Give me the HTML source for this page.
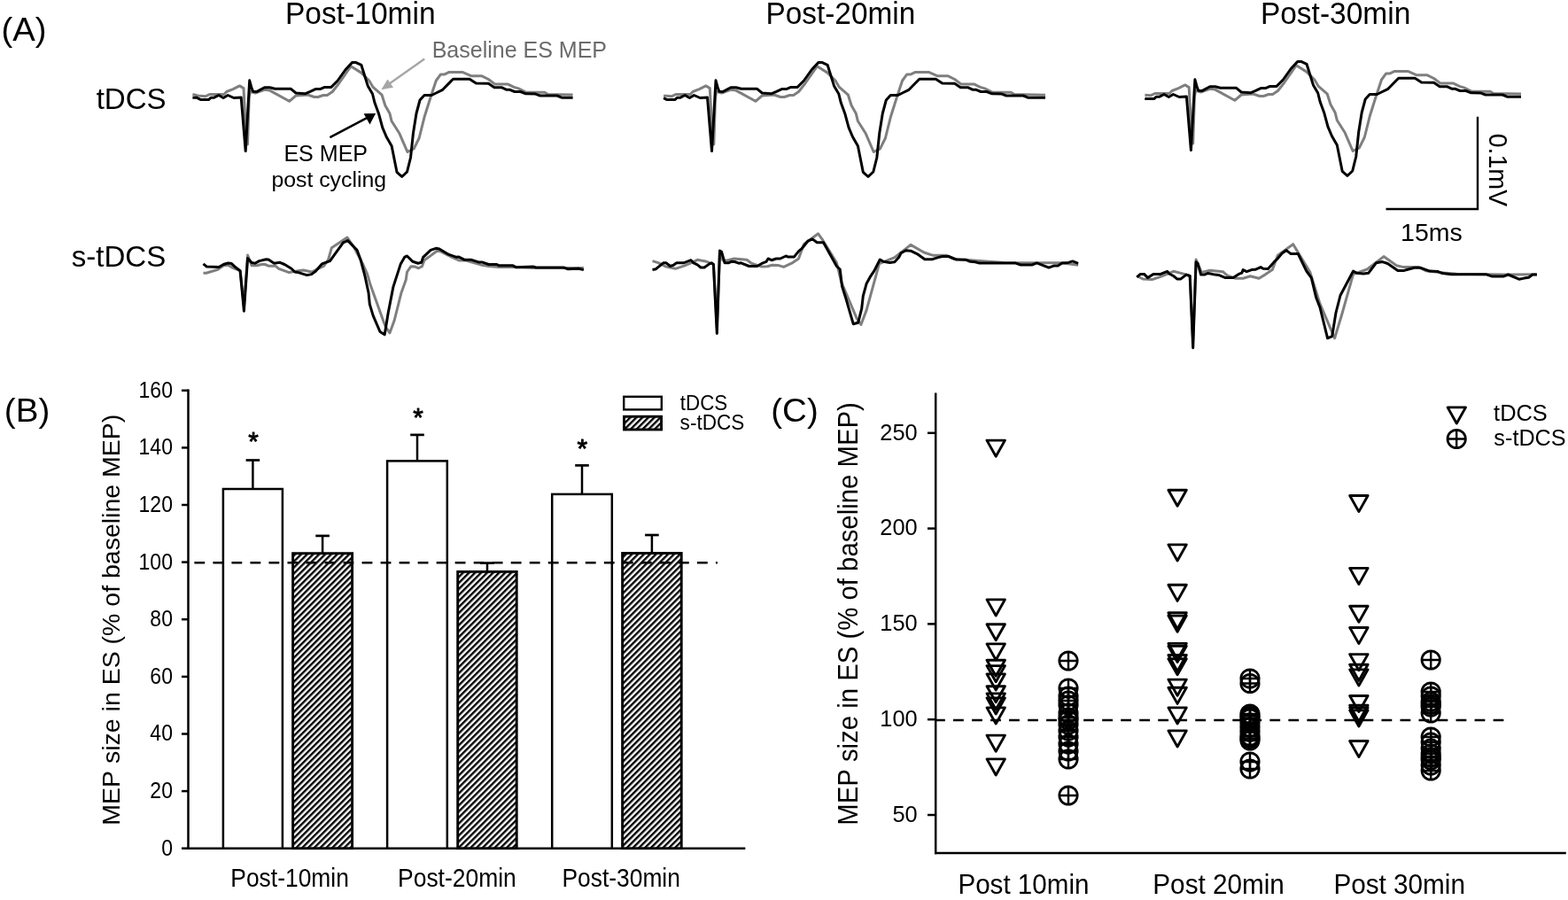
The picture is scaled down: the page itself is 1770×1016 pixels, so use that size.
<!DOCTYPE html>
<html><head><meta charset="utf-8"><title>Figure</title>
<style>html,body{margin:0;padding:0;background:#fff;} svg{display:block;} text{font-family:"Liberation Sans", Arial, sans-serif;font-kerning:none;}</style>
</head><body>
<svg width="1770" height="1016" viewBox="0 0 1770 1016">
<rect width="1770" height="1016" fill="#fff"/>
<path d="M217.4,106.5 L217.4,106.5 L223.3,108.0 L232.1,108.7 L236.6,106.5 L252.8,106.5 L255.8,103.5 L263.1,100.6 L270.5,96.9 L275.0,99.6 L277.5,150.0 L279.5,163.0 L281.2,110.0 L282.5,103.0 L288.2,105.0 L298.6,101.3 L304.5,102.1 L326.6,114.3 L334.0,108.0 L347.3,107.0 L354.7,109.5 L359.1,109.5 L365.0,107.5 L369.4,107.5 L375.3,103.5 L382.7,94.0 L396.0,74.8 L407.8,82.1 L416.7,91.0 L421.1,98.4 L431.1,107.2 L434.8,119.0 L439.9,127.9 L442.1,136.8 L451.0,150.8 L459.9,171.5 L467.2,167.8 L473.1,156.0 L479.0,132.3 L486.4,108.7 L492.3,91.0 L497.5,83.9 L501.9,83.9 L507.1,81.4 L521.9,81.4 L532.2,85.8 L544.0,85.8 L551.4,89.5 L558.8,95.1 L573.5,95.1 L580.2,98.4 L585.3,99.9 L594.2,104.3 L614.9,104.3 L618.6,106.5 L646.6,107.0" fill="none" stroke="#7f7f7f" stroke-width="3.0" stroke-linejoin="round" stroke-linecap="butt"/>
<path d="M217.4,110.2 L221.8,110.2 L226.2,112.4 L235.8,112.4 L238.0,110.2 L241.7,110.2 L246.9,107.5 L252.1,110.5 L257.2,107.5 L263.9,110.5 L272.2,110.0 L277.2,170.6 L281.7,90.8 L284.1,99.7 L285.6,103.2 L289.6,103.6 L298.6,98.7 L304.5,98.7 L310.4,100.2 L328.1,100.2 L334.0,105.0 L344.3,105.8 L350.2,103.3 L356.1,100.6 L361.3,100.6 L366.5,98.4 L373.9,98.4 L381.2,91.0 L390.1,78.5 L397.5,70.6 L401.9,70.6 L407.8,73.3 L415.2,96.9 L420.5,106.0 L423.0,116.1 L427.4,127.9 L431.8,144.1 L436.2,154.5 L442.1,164.8 L448.0,194.3 L453.7,199.5 L459.5,194.0 L463.5,178.0 L466.5,150.0 L470.0,128.0 L474.0,113.0 L479.0,107.5 L487.2,107.5 L492.3,105.0 L499.7,101.3 L511.5,89.2 L530.0,89.2 L537.4,94.0 L551.4,94.2 L558.0,98.7 L566.1,98.7 L572.0,101.3 L575.7,101.3 L580.9,103.5 L587.6,103.5 L593.5,105.8 L604.5,106.1 L609.7,108.0 L628.9,108.0 L634.0,110.2 L646.6,110.2" fill="none" stroke="#000" stroke-width="3.0" stroke-linejoin="round" stroke-linecap="butt"/>
<path d="M749.1,107.9 L749.6,108.0 L758.4,108.7 L762.9,106.5 L779.1,106.5 L782.1,103.5 L789.4,100.6 L796.8,96.9 L801.3,99.6 L803.8,150.0 L805.8,163.0 L807.5,110.0 L808.8,103.0 L814.5,105.0 L824.9,101.3 L830.8,102.1 L852.9,114.3 L860.3,108.0 L873.6,107.0 L881.0,109.5 L885.4,109.5 L891.3,107.5 L895.7,107.5 L901.6,103.5 L909.0,94.0 L922.3,74.8 L934.1,82.1 L943.0,91.0 L947.4,98.4 L957.4,107.2 L961.1,119.0 L966.2,127.9 L968.4,136.8 L977.3,150.8 L986.2,171.5 L993.5,167.8 L999.4,156.0 L1005.3,132.3 L1012.7,108.7 L1018.6,91.0 L1023.8,83.9 L1028.2,83.9 L1033.4,81.4 L1048.2,81.4 L1058.5,85.8 L1070.3,85.8 L1077.7,89.5 L1085.1,95.1 L1099.8,95.1 L1106.5,98.4 L1111.6,99.9 L1120.5,104.3 L1141.2,104.3 L1144.9,106.5 L1180.0,107.2" fill="none" stroke="#7f7f7f" stroke-width="3.0" stroke-linejoin="round" stroke-linecap="butt"/>
<path d="M749.1,110.7 L752.5,112.4 L762.1,112.4 L764.3,110.2 L768.0,110.2 L773.2,107.5 L778.4,110.5 L783.5,107.5 L790.2,110.5 L798.5,110.0 L803.5,170.6 L808.0,90.8 L810.4,99.7 L811.9,103.2 L815.9,103.6 L824.9,98.7 L830.8,98.7 L836.7,100.2 L854.4,100.2 L860.3,105.0 L870.6,105.8 L876.5,103.3 L882.4,100.6 L887.6,100.6 L892.8,98.4 L900.2,98.4 L907.5,91.0 L916.4,78.5 L923.8,70.6 L928.2,70.6 L934.1,73.3 L941.5,96.9 L946.8,106.0 L949.3,116.1 L953.7,127.9 L958.1,144.1 L962.5,154.5 L968.4,164.8 L974.3,194.3 L980.0,199.5 L985.8,194.0 L989.8,178.0 L992.8,150.0 L996.3,128.0 L1000.3,113.0 L1005.3,107.5 L1013.5,107.5 L1018.6,105.0 L1026.0,101.3 L1037.8,89.2 L1056.3,89.2 L1063.7,94.0 L1077.7,94.2 L1084.3,98.7 L1092.4,98.7 L1098.3,101.3 L1102.0,101.3 L1107.2,103.5 L1113.9,103.5 L1119.8,105.8 L1130.8,106.1 L1136.0,108.0 L1155.2,108.0 L1160.3,110.2 L1180.0,110.2" fill="none" stroke="#000" stroke-width="3.0" stroke-linejoin="round" stroke-linecap="butt"/>
<path d="M1292.4,107.2 L1299.3,107.7 L1303.8,105.5 L1320.0,105.5 L1323.0,102.5 L1330.3,99.6 L1337.7,95.9 L1342.2,98.6 L1344.7,149.0 L1346.7,162.0 L1348.4,109.0 L1349.7,102.0 L1355.4,104.0 L1365.8,100.3 L1371.7,101.1 L1393.8,113.3 L1401.2,107.0 L1414.5,106.0 L1421.9,108.5 L1426.3,108.5 L1432.2,106.5 L1436.6,106.5 L1442.5,102.5 L1449.9,93.0 L1463.2,73.8 L1475.0,81.1 L1483.9,90.0 L1488.3,97.4 L1498.3,106.2 L1502.0,118.0 L1507.1,126.9 L1509.3,135.8 L1518.2,149.8 L1527.1,170.5 L1534.4,166.8 L1540.3,155.0 L1546.2,131.3 L1553.6,107.7 L1559.5,90.0 L1564.7,82.9 L1569.1,82.9 L1574.3,80.4 L1589.1,80.4 L1599.4,84.8 L1611.2,84.8 L1618.6,88.5 L1626.0,94.1 L1640.7,94.1 L1647.4,97.4 L1652.5,98.9 L1661.4,103.3 L1682.1,103.3 L1685.8,105.5 L1717.0,106.1" fill="none" stroke="#7f7f7f" stroke-width="3.0" stroke-linejoin="round" stroke-linecap="butt"/>
<path d="M1292.4,110.9 L1293.4,111.4 L1303.0,111.4 L1305.2,109.2 L1308.9,109.2 L1314.1,106.5 L1319.3,109.5 L1324.4,106.5 L1331.1,109.5 L1339.4,109.0 L1344.4,169.6 L1348.9,89.8 L1351.3,98.7 L1352.8,102.2 L1356.8,102.6 L1365.8,97.7 L1371.7,97.7 L1377.6,99.2 L1395.3,99.2 L1401.2,104.0 L1411.5,104.8 L1417.4,102.3 L1423.3,99.6 L1428.5,99.6 L1433.7,97.4 L1441.1,97.4 L1448.4,90.0 L1457.3,77.5 L1464.7,69.6 L1469.1,69.6 L1475.0,72.3 L1482.4,95.9 L1487.7,105.0 L1490.2,115.1 L1494.6,126.9 L1499.0,143.1 L1503.4,153.5 L1509.3,163.8 L1515.2,193.3 L1520.9,198.5 L1526.7,193.0 L1530.7,177.0 L1533.7,149.0 L1537.2,127.0 L1541.2,112.0 L1546.2,106.5 L1554.4,106.5 L1559.5,104.0 L1566.9,100.3 L1578.7,88.2 L1597.2,88.2 L1604.6,93.0 L1618.6,93.2 L1625.2,97.7 L1633.3,97.7 L1639.2,100.3 L1642.9,100.3 L1648.1,102.5 L1654.8,102.5 L1660.7,104.8 L1671.7,105.1 L1676.9,107.0 L1696.1,107.0 L1701.2,109.2 L1717.0,109.2" fill="none" stroke="#000" stroke-width="3.0" stroke-linejoin="round" stroke-linecap="butt"/>
<path d="M229.5,308.3 L232.8,308.3 L245.8,304.4 L252.3,299.8 L257.5,299.2 L262.7,302.4 L271.1,305.7 L275.4,345.0 L279.6,288.1 L284.1,299.8 L290.0,299.8 L295.2,298.5 L299.1,298.5 L303.0,300.2 L310.8,300.2 L314.7,303.3 L326.4,307.6 L336.7,305.7 L342.6,305.0 L351.7,307.0 L365.3,300.5 L370.5,293.3 L374.4,279.7 L392.0,268.0 L399.1,278.4 L409.5,297.9 L414.7,309.6 L418.0,321.3 L432.9,362.8 L435.5,369.3 L440.0,375.8 L445.2,361.5 L453.0,330.4 L458.2,316.1 L459.5,307.0 L464.0,300.7 L468.6,301.1 L472.5,302.8 L476.4,300.7 L479.0,293.7 L484.2,290.1 L494.6,282.3 L506.3,288.5 L518.0,294.0 L525.8,294.0 L542.7,298.9 L551.7,300.5 L563.4,301.5 L579.0,301.5 L602.4,302.4 L658.9,302.4" fill="none" stroke="#7f7f7f" stroke-width="3.0" stroke-linejoin="round" stroke-linecap="butt"/>
<path d="M229.5,297.9 L233.4,301.1 L247.1,301.5 L252.3,298.5 L257.5,297.0 L261.4,297.6 L265.9,301.8 L271.1,305.7 L275.4,351.2 L279.6,291.4 L284.1,296.6 L288.0,297.2 L292.6,294.6 L300.4,292.7 L303.0,292.9 L309.5,297.2 L316.0,296.3 L321.2,298.5 L329.0,303.3 L332.8,307.0 L336.7,307.6 L346.5,310.6 L351.7,309.6 L356.2,306.3 L363.4,297.9 L372.5,294.6 L375.7,290.1 L387.4,273.8 L392.6,271.6 L403.0,282.3 L406.9,292.7 L412.1,312.2 L416.0,330.4 L417.3,343.4 L421.2,356.4 L429.0,374.5 L434.2,377.8 L438.1,353.8 L443.9,323.9 L452.3,297.9 L456.9,290.1 L459.5,289.0 L466.0,295.3 L471.8,297.2 L475.7,296.3 L477.7,290.3 L486.1,282.3 L492.0,280.3 L495.9,281.0 L506.3,287.2 L515.4,290.3 L518.0,290.1 L524.5,293.3 L532.3,293.3 L540.1,295.9 L544.0,295.9 L551.7,298.5 L560.8,298.5 L563.4,299.8 L579.0,299.8 L582.9,301.8 L602.4,301.1 L605.0,302.0 L636.2,302.0 L640.7,303.7 L653.1,303.3 L658.9,304.6" fill="none" stroke="#000" stroke-width="3.0" stroke-linejoin="round" stroke-linecap="butt"/>
<path d="M736.5,294.6 L743.0,296.6 L752.1,301.1 L762.5,303.3 L772.9,299.8 L780.7,296.6 L787.2,293.3 L797.6,295.3 L804.1,297.9 L805.4,298.5 L809.3,370.0 L812.5,284.0 L816.0,294.0 L821.0,294.0 L828.8,292.0 L843.0,293.3 L848.2,297.2 L859.9,301.1 L866.4,300.7 L871.6,299.2 L878.1,299.4 L884.6,301.4 L893.7,297.2 L901.5,292.0 L907.4,275.8 L923.6,263.8 L928.8,271.2 L944.4,296.6 L949.7,318.3 L967.1,359.4 L971.9,366.5 L978.2,349.9 L992.5,297.7 L1009.9,290.6 L1028.0,276.4 L1043.1,285.0 L1052.6,288.2 L1068.4,288.2 L1076.3,292.2 L1112.7,295.0 L1133.3,296.5 L1198.1,296.8 L1217.1,299.3" fill="none" stroke="#7f7f7f" stroke-width="3.0" stroke-linejoin="round" stroke-linecap="butt"/>
<path d="M736.5,304.4 L740.4,303.7 L748.8,296.8 L752.1,296.8 L756.6,300.5 L759.9,299.4 L763.8,296.8 L771.6,296.8 L780.0,293.7 L782.6,296.6 L787.2,298.9 L791.1,302.0 L795.0,302.0 L800.8,297.9 L803.4,296.8 L805.4,298.5 L809.3,376.5 L812.5,282.9 L814.5,284.2 L818.1,296.8 L822.3,296.8 L825.5,295.3 L829.4,295.5 L834.0,297.2 L836.5,296.8 L845.6,300.5 L854.7,300.5 L861.2,296.8 L865.1,295.3 L867.1,292.0 L871.0,293.7 L876.2,292.0 L880.7,292.0 L887.2,289.0 L889.8,290.1 L896.3,290.1 L901.5,283.6 L905.4,280.3 L911.9,272.2 L917.1,269.9 L922.3,273.8 L929.5,273.8 L937.9,288.8 L944.4,300.5 L948.2,304.0 L950.5,323.0 L954.5,335.7 L963.2,365.7 L968.7,364.2 L972.7,348.3 L974.3,334.1 L978.2,319.9 L982.2,312.7 L986.9,305.6 L993.3,293.0 L997.2,295.3 L1004.3,296.4 L1009.9,295.8 L1014.6,290.6 L1017.0,285.8 L1022.5,282.7 L1028.0,283.2 L1035.2,286.6 L1043.9,292.7 L1052.6,292.7 L1058.9,290.6 L1063.7,289.5 L1070.8,289.5 L1079.5,293.0 L1090.5,293.3 L1095.3,295.3 L1100.8,295.8 L1104.8,296.9 L1145.9,296.9 L1152.2,299.0 L1164.9,299.0 L1170.4,296.9 L1183.9,302.1 L1189.4,300.1 L1194.2,300.1 L1198.9,296.9 L1206.0,296.4 L1210.8,294.9 L1217.1,297.4" fill="none" stroke="#000" stroke-width="3.0" stroke-linejoin="round" stroke-linecap="butt"/>
<path d="M1283.3,311.5 L1290.2,315.0 L1300.5,315.6 L1309.4,312.6 L1316.3,309.8 L1324.6,306.3 L1337.0,309.4 L1343.2,311.5 L1346.7,385.0 L1350.1,293.0 L1356.3,307.4 L1365.9,305.3 L1380.4,306.7 L1385.2,310.8 L1394.9,314.3 L1403.2,314.3 L1411.4,311.8 L1421.1,314.3 L1428.0,310.1 L1436.2,304.6 L1442.4,288.1 L1459.7,275.7 L1478.9,307.4 L1490.0,342.9 L1506.6,381.8 L1514.5,355.8 L1527.5,309.7 L1543.3,304.0 L1562.0,289.6 L1576.4,299.7 L1583.6,301.4 L1600.9,301.4 L1609.6,305.7 L1630.0,308.0 L1644.2,309.2 L1700.0,310.0 L1734.9,309.8" fill="none" stroke="#7f7f7f" stroke-width="3.0" stroke-linejoin="round" stroke-linecap="butt"/>
<path d="M1283.3,312.9 L1287.4,309.4 L1291.5,309.4 L1295.7,313.6 L1301.9,309.4 L1310.1,309.4 L1317.7,306.3 L1319.8,309.0 L1324.6,311.5 L1328.7,314.9 L1332.9,314.9 L1339.1,310.1 L1343.2,311.5 L1346.7,392.8 L1350.1,295.7 L1352.2,297.7 L1355.6,310.1 L1359.7,310.1 L1363.2,308.5 L1366.6,309.0 L1371.5,310.1 L1375.6,310.4 L1383.2,313.6 L1392.1,313.6 L1398.3,309.4 L1401.8,308.1 L1403.2,304.6 L1407.3,306.7 L1412.8,304.6 L1416.9,304.3 L1423.1,301.6 L1425.9,303.2 L1431.4,303.5 L1438.3,295.7 L1441.7,292.5 L1447.2,286.0 L1452.1,282.6 L1456.9,286.4 L1465.2,286.4 L1474.8,306.0 L1480.3,313.6 L1485.8,336.3 L1490.0,347.0 L1498.6,381.8 L1503.7,379.6 L1508.0,353.0 L1513.0,333.5 L1519.5,321.3 L1527.5,306.1 L1531.8,308.3 L1539.0,309.0 L1544.7,308.3 L1549.1,302.5 L1553.4,296.8 L1560.6,295.6 L1566.4,297.5 L1577.9,305.4 L1585.1,305.4 L1590.8,303.7 L1596.6,302.3 L1603.8,302.3 L1613.9,306.1 L1623.3,306.6 L1628.3,308.6 L1638.4,309.7 L1677.3,309.7 L1683.8,311.9 L1697.5,311.9 L1702.5,310.0 L1714.7,315.2 L1720.5,314.1 L1725.6,313.3 L1729.9,310.0 L1734.9,310.0" fill="none" stroke="#000" stroke-width="3.0" stroke-linejoin="round" stroke-linecap="butt"/>
<line x1="479.2" y1="66.6" x2="436" y2="97" stroke="#a6a6a6" stroke-width="2.4"/>
<polygon points="430.3,101.3 437.5,89.5 444,98.8" fill="#a6a6a6"/>
<line x1="372.4" y1="155.2" x2="416" y2="132.2" stroke="#000" stroke-width="2.6"/>
<polygon points="424.1,127.9 410.6,128.3 417.5,140.5" fill="#000"/>
<path d="M1564.5,236 H1668 V131.8" fill="none" stroke="#000" stroke-width="2.4"/>
<text x="0" y="0" font-size="38.30" fill="#000" transform="translate(1.58,45.60) scale(1,0.975)">(A)</text>
<text x="0" y="0" font-size="33.58" fill="#000" transform="translate(321.90,26.60) scale(1,1.0344924011105654)">Post-10min</text>
<text x="0" y="0" font-size="33.38" fill="#000" transform="translate(864.51,26.60) scale(1,1.0408041302204525)">Post-20min</text>
<text x="0" y="0" font-size="33.50" fill="#000" transform="translate(1422.90,26.60) scale(1,1.03700788415278)">Post-30min</text>
<text x="0" y="0" font-size="33.07" fill="#000" transform="translate(108.65,123.20)">tDCS</text>
<text x="0" y="0" font-size="33.10" fill="#000" transform="translate(80.73,301.20)">s-tDCS</text>
<text x="0" y="0" font-size="25.01" fill="#6b6b6b" transform="translate(487.70,64.80)">Baseline ES MEP</text>
<text x="0" y="0" font-size="25.05" fill="#000" transform="translate(320.39,181.50)">ES MEP</text>
<text x="0" y="0" font-size="24.81" fill="#000" transform="translate(306.45,211.00)">post cycling</text>
<text x="0" y="0" font-size="28.50" fill="#000" transform="translate(1581.08,271.90)">15ms</text>
<text x="0" y="0" font-size="28.56" transform="translate(1681.40,150.63) rotate(90) scale(1,1.059)">0.1mV</text>
<line x1="212.5" y1="439.5" x2="212.5" y2="959" stroke="#000" stroke-width="2.5"/>
<line x1="211.3" y1="957.7" x2="841.3" y2="957.7" stroke="#000" stroke-width="2.5"/>
<line x1="205" y1="957.7" x2="212.5" y2="957.7" stroke="#000" stroke-width="2.5"/>
<text x="0" y="0" font-size="23.00" transform="translate(182.16,965.60) scale(1,1.13)">0</text>
<line x1="205" y1="893.1" x2="212.5" y2="893.1" stroke="#000" stroke-width="2.5"/>
<text x="0" y="0" font-size="23.00" transform="translate(169.37,900.99) scale(1,1.13)">20</text>
<line x1="205" y1="828.5" x2="212.5" y2="828.5" stroke="#000" stroke-width="2.5"/>
<text x="0" y="0" font-size="23.00" transform="translate(169.37,836.38) scale(1,1.13)">40</text>
<line x1="205" y1="763.9" x2="212.5" y2="763.9" stroke="#000" stroke-width="2.5"/>
<text x="0" y="0" font-size="23.00" transform="translate(169.37,771.76) scale(1,1.13)">60</text>
<line x1="205" y1="699.2" x2="212.5" y2="699.2" stroke="#000" stroke-width="2.5"/>
<text x="0" y="0" font-size="23.00" transform="translate(169.37,707.15) scale(1,1.13)">80</text>
<line x1="205" y1="634.6" x2="212.5" y2="634.6" stroke="#000" stroke-width="2.5"/>
<text x="0" y="0" font-size="23.00" transform="translate(156.57,642.54) scale(1,1.13)">100</text>
<line x1="205" y1="570.0" x2="212.5" y2="570.0" stroke="#000" stroke-width="2.5"/>
<text x="0" y="0" font-size="23.00" transform="translate(156.57,577.92) scale(1,1.13)">120</text>
<line x1="205" y1="505.4" x2="212.5" y2="505.4" stroke="#000" stroke-width="2.5"/>
<text x="0" y="0" font-size="23.00" transform="translate(156.57,513.31) scale(1,1.13)">140</text>
<line x1="205" y1="440.8" x2="212.5" y2="440.8" stroke="#000" stroke-width="2.5"/>
<text x="0" y="0" font-size="23.00" transform="translate(156.57,448.70) scale(1,1.13)">160</text>
<text x="0" y="0" font-size="28.51" transform="translate(134.85,931.69) rotate(-90) scale(1,0.938)">MEP size in ES (% of baseline MEP)</text>
<text x="0" y="0" font-size="38.63" fill="#000" transform="translate(4.85,475.90) scale(1,0.97)">(B)</text>
<defs><pattern id="hatch" patternUnits="userSpaceOnUse" width="4.8" height="4.8" patternTransform="rotate(45)">
<rect width="4.8" height="4.8" fill="#fff"/><rect x="0" y="0" width="2.4" height="4.8" fill="#000"/></pattern></defs>
<line x1="285.4" y1="519.5" x2="285.4" y2="552" stroke="#000" stroke-width="2.5"/>
<line x1="277.6" y1="519.5" x2="293.2" y2="519.5" stroke="#000" stroke-width="2.7"/>
<rect x="251.9" y="552" width="67.0" height="405.7" fill="#fff" stroke="#000" stroke-width="2.5"/>
<line x1="364.1" y1="604.9" x2="364.1" y2="624.7" stroke="#000" stroke-width="2.5"/>
<line x1="356.3" y1="604.9" x2="371.9" y2="604.9" stroke="#000" stroke-width="2.7"/>
<rect x="330.6" y="624.7" width="67.0" height="333.0" fill="url(#hatch)" stroke="#000" stroke-width="2.9"/>
<line x1="471.0" y1="490.9" x2="471.0" y2="520.4" stroke="#000" stroke-width="2.5"/>
<line x1="463.2" y1="490.9" x2="478.8" y2="490.9" stroke="#000" stroke-width="2.7"/>
<rect x="437.1" y="520.4" width="67.7" height="437.3" fill="#fff" stroke="#000" stroke-width="2.5"/>
<line x1="550.0" y1="635.6" x2="550.0" y2="645.4" stroke="#000" stroke-width="2.5"/>
<line x1="542.2" y1="635.6" x2="557.8" y2="635.6" stroke="#000" stroke-width="2.7"/>
<rect x="516.7" y="645.4" width="66.5" height="312.3" fill="url(#hatch)" stroke="#000" stroke-width="2.9"/>
<line x1="657.0" y1="525.4" x2="657.0" y2="557.9" stroke="#000" stroke-width="2.5"/>
<line x1="649.2" y1="525.4" x2="664.8" y2="525.4" stroke="#000" stroke-width="2.7"/>
<rect x="623.2" y="557.9" width="67.6" height="399.8" fill="#fff" stroke="#000" stroke-width="2.5"/>
<line x1="735.9" y1="604" x2="735.9" y2="624.5" stroke="#000" stroke-width="2.5"/>
<line x1="728.1" y1="604" x2="743.7" y2="604" stroke="#000" stroke-width="2.7"/>
<rect x="702.6" y="624.5" width="66.6" height="333.2" fill="url(#hatch)" stroke="#000" stroke-width="2.9"/>
<text x="0" y="0" font-size="29.66" fill="#000" stroke="#000" stroke-width="0.9" stroke-linejoin="round" transform="translate(280.22,508.24)">*</text>
<text x="0" y="0" font-size="29.66" fill="#000" stroke="#000" stroke-width="0.9" stroke-linejoin="round" transform="translate(466.32,481.34)">*</text>
<text x="0" y="0" font-size="29.94" fill="#000" stroke="#000" stroke-width="0.9" stroke-linejoin="round" transform="translate(651.42,516.33)">*</text>
<line x1="219.4" y1="635.3" x2="809.9" y2="635.3" stroke="#000" stroke-width="2.6" stroke-dasharray="11.8 9.22"/>
<rect x="704.2" y="447.8" width="42.6" height="14.6" fill="#fff" stroke="#000" stroke-width="2.4"/>
<rect x="704.45" y="470.25" width="42.1" height="14.7" fill="url(#hatch)" stroke="#000" stroke-width="2.9"/>
<text x="0" y="0" font-size="22.34" fill="#000" transform="translate(767.81,462.70) scale(1,1.0607233201028625)">tDCS</text>
<text x="0" y="0" font-size="22.55" fill="#000" transform="translate(767.62,485.30) scale(1,1.0248148593596462)">s-tDCS</text>
<text x="0" y="0" font-size="26.43" fill="#000" transform="translate(260.28,1001.20) scale(1,1.0997788483288242)">Post-10min</text>
<text x="0" y="0" font-size="26.45" fill="#000" transform="translate(449.08,1001.20) scale(1,1.0989322133416584)">Post-20min</text>
<text x="0" y="0" font-size="26.39" fill="#000" transform="translate(634.49,1001.20) scale(1,1.1014760379095787)">Post-30min</text>
<line x1="1056.2" y1="443.6" x2="1056.2" y2="964.2" stroke="#000" stroke-width="2.5"/>
<line x1="1055" y1="963" x2="1767.8" y2="963" stroke="#000" stroke-width="2.5"/>
<line x1="1047" y1="920.0" x2="1056.2" y2="920.0" stroke="#000" stroke-width="2.5"/>
<text x="0" y="0" font-size="25.40" transform="translate(1007.39,927.70) scale(1,1.0)">50</text>
<line x1="1047" y1="812.2" x2="1056.2" y2="812.2" stroke="#000" stroke-width="2.5"/>
<text x="0" y="0" font-size="25.40" transform="translate(993.26,819.90) scale(1,1.0)">100</text>
<line x1="1047" y1="704.4" x2="1056.2" y2="704.4" stroke="#000" stroke-width="2.5"/>
<text x="0" y="0" font-size="25.40" transform="translate(993.26,712.10) scale(1,1.0)">150</text>
<line x1="1047" y1="596.6" x2="1056.2" y2="596.6" stroke="#000" stroke-width="2.5"/>
<text x="0" y="0" font-size="25.40" transform="translate(993.26,604.30) scale(1,1.0)">200</text>
<line x1="1047" y1="488.8" x2="1056.2" y2="488.8" stroke="#000" stroke-width="2.5"/>
<text x="0" y="0" font-size="25.40" transform="translate(993.26,496.50) scale(1,1.0)">250</text>
<text x="0" y="0" font-size="29.34" transform="translate(968.45,931.76) rotate(-90) scale(1,1.060)">MEP size in ES (% of baseline MEP)</text>
<text x="0" y="0" font-size="38.52" fill="#000" transform="translate(870.26,476.00) scale(1,0.98)">(C)</text>
<line x1="1055" y1="813" x2="1697.4" y2="813" stroke="#000" stroke-width="2.6" stroke-dasharray="11.8 9.22"/>
<polygon points="1114.0,497.1 1134.4,497.1 1124.2,515.2" fill="none" stroke="#000" stroke-width="2.9" stroke-linejoin="round"/>
<polygon points="1114.0,676.9 1134.4,676.9 1124.2,695.0" fill="none" stroke="#000" stroke-width="2.9" stroke-linejoin="round"/>
<polygon points="1114.0,704.7 1134.4,704.7 1124.2,722.8" fill="none" stroke="#000" stroke-width="2.9" stroke-linejoin="round"/>
<polygon points="1114.0,726.9 1134.4,726.9 1124.2,745.0" fill="none" stroke="#000" stroke-width="2.9" stroke-linejoin="round"/>
<polygon points="1114.0,745.2 1134.4,745.2 1124.2,763.3" fill="none" stroke="#000" stroke-width="2.9" stroke-linejoin="round"/>
<polygon points="1114.0,751.6 1134.4,751.6 1124.2,769.7" fill="none" stroke="#000" stroke-width="2.9" stroke-linejoin="round"/>
<polygon points="1114.0,760.9 1134.4,760.9 1124.2,779.0" fill="none" stroke="#000" stroke-width="2.9" stroke-linejoin="round"/>
<polygon points="1114.0,774.7 1134.4,774.7 1124.2,792.8" fill="none" stroke="#000" stroke-width="2.9" stroke-linejoin="round"/>
<polygon points="1114.0,782.9 1134.4,782.9 1124.2,801.0" fill="none" stroke="#000" stroke-width="2.9" stroke-linejoin="round"/>
<polygon points="1114.0,787.9 1134.4,787.9 1124.2,806.0" fill="none" stroke="#000" stroke-width="2.9" stroke-linejoin="round"/>
<polygon points="1114.0,798.9 1134.4,798.9 1124.2,817.0" fill="none" stroke="#000" stroke-width="2.9" stroke-linejoin="round"/>
<polygon points="1114.0,830.1 1134.4,830.1 1124.2,848.2" fill="none" stroke="#000" stroke-width="2.9" stroke-linejoin="round"/>
<polygon points="1114.0,856.9 1134.4,856.9 1124.2,875.0" fill="none" stroke="#000" stroke-width="2.9" stroke-linejoin="round"/>
<polygon points="1318.9,553.2 1339.3,553.2 1329.1,571.3" fill="none" stroke="#000" stroke-width="2.9" stroke-linejoin="round"/>
<polygon points="1318.9,614.9 1339.3,614.9 1329.1,633.0" fill="none" stroke="#000" stroke-width="2.9" stroke-linejoin="round"/>
<polygon points="1318.9,660.3 1339.3,660.3 1329.1,678.4" fill="none" stroke="#000" stroke-width="2.9" stroke-linejoin="round"/>
<polygon points="1318.9,691.8 1339.3,691.8 1329.1,709.9" fill="none" stroke="#000" stroke-width="2.9" stroke-linejoin="round"/>
<polygon points="1318.9,695.1 1339.3,695.1 1329.1,713.2" fill="none" stroke="#000" stroke-width="2.9" stroke-linejoin="round"/>
<polygon points="1318.9,726.4 1339.3,726.4 1329.1,744.5" fill="none" stroke="#000" stroke-width="2.9" stroke-linejoin="round"/>
<polygon points="1318.9,729.4 1339.3,729.4 1329.1,747.5" fill="none" stroke="#000" stroke-width="2.9" stroke-linejoin="round"/>
<polygon points="1318.9,739.5 1339.3,739.5 1329.1,757.6" fill="none" stroke="#000" stroke-width="2.9" stroke-linejoin="round"/>
<polygon points="1318.9,743.7 1339.3,743.7 1329.1,761.8" fill="none" stroke="#000" stroke-width="2.9" stroke-linejoin="round"/>
<polygon points="1318.9,767.1 1339.3,767.1 1329.1,785.2" fill="none" stroke="#000" stroke-width="2.9" stroke-linejoin="round"/>
<polygon points="1318.9,776.3 1339.3,776.3 1329.1,794.4" fill="none" stroke="#000" stroke-width="2.9" stroke-linejoin="round"/>
<polygon points="1318.9,798.9 1339.3,798.9 1329.1,817.0" fill="none" stroke="#000" stroke-width="2.9" stroke-linejoin="round"/>
<polygon points="1318.9,824.9 1339.3,824.9 1329.1,843.0" fill="none" stroke="#000" stroke-width="2.9" stroke-linejoin="round"/>
<polygon points="1523.7,559.5 1544.1,559.5 1533.9,577.6" fill="none" stroke="#000" stroke-width="2.9" stroke-linejoin="round"/>
<polygon points="1523.7,641.4 1544.1,641.4 1533.9,659.5" fill="none" stroke="#000" stroke-width="2.9" stroke-linejoin="round"/>
<polygon points="1523.7,684.2 1544.1,684.2 1533.9,702.3" fill="none" stroke="#000" stroke-width="2.9" stroke-linejoin="round"/>
<polygon points="1523.7,708.5 1544.1,708.5 1533.9,726.6" fill="none" stroke="#000" stroke-width="2.9" stroke-linejoin="round"/>
<polygon points="1523.7,738.6 1544.1,738.6 1533.9,756.7" fill="none" stroke="#000" stroke-width="2.9" stroke-linejoin="round"/>
<polygon points="1523.7,750.3 1544.1,750.3 1533.9,768.4" fill="none" stroke="#000" stroke-width="2.9" stroke-linejoin="round"/>
<polygon points="1523.7,755.9 1544.1,755.9 1533.9,774.0" fill="none" stroke="#000" stroke-width="2.9" stroke-linejoin="round"/>
<polygon points="1523.7,785.5 1544.1,785.5 1533.9,803.6" fill="none" stroke="#000" stroke-width="2.9" stroke-linejoin="round"/>
<polygon points="1523.7,796.3 1544.1,796.3 1533.9,814.4" fill="none" stroke="#000" stroke-width="2.9" stroke-linejoin="round"/>
<polygon points="1523.7,798.9 1544.1,798.9 1533.9,817.0" fill="none" stroke="#000" stroke-width="2.9" stroke-linejoin="round"/>
<polygon points="1523.7,801.9 1544.1,801.9 1533.9,820.0" fill="none" stroke="#000" stroke-width="2.9" stroke-linejoin="round"/>
<polygon points="1523.7,836.5 1544.1,836.5 1533.9,854.6" fill="none" stroke="#000" stroke-width="2.9" stroke-linejoin="round"/>
<circle cx="1206.0" cy="746.0" r="10.2" fill="none" stroke="#000" stroke-width="2.7"/>
<path d="M1195.8,746.0 H1216.2 M1206.0,735.8 V756.2" stroke="#000" stroke-width="2.4"/>
<circle cx="1206.0" cy="777.0" r="10.2" fill="none" stroke="#000" stroke-width="2.7"/>
<path d="M1195.8,777.0 H1216.2 M1206.0,766.8 V787.2" stroke="#000" stroke-width="2.4"/>
<circle cx="1206.0" cy="786.0" r="10.2" fill="none" stroke="#000" stroke-width="2.7"/>
<path d="M1195.8,786.0 H1216.2 M1206.0,775.8 V796.2" stroke="#000" stroke-width="2.4"/>
<circle cx="1206.0" cy="791.0" r="10.2" fill="none" stroke="#000" stroke-width="2.7"/>
<path d="M1195.8,791.0 H1216.2 M1206.0,780.8 V801.2" stroke="#000" stroke-width="2.4"/>
<circle cx="1206.0" cy="796.0" r="10.2" fill="none" stroke="#000" stroke-width="2.7"/>
<path d="M1195.8,796.0 H1216.2 M1206.0,785.8 V806.2" stroke="#000" stroke-width="2.4"/>
<circle cx="1206.0" cy="805.0" r="10.2" fill="none" stroke="#000" stroke-width="2.7"/>
<path d="M1195.8,805.0 H1216.2 M1206.0,794.8 V815.2" stroke="#000" stroke-width="2.4"/>
<circle cx="1206.0" cy="810.0" r="10.2" fill="none" stroke="#000" stroke-width="2.7"/>
<path d="M1195.8,810.0 H1216.2 M1206.0,799.8 V820.2" stroke="#000" stroke-width="2.4"/>
<circle cx="1206.0" cy="813.0" r="10.2" fill="none" stroke="#000" stroke-width="2.7"/>
<path d="M1195.8,813.0 H1216.2 M1206.0,802.8 V823.2" stroke="#000" stroke-width="2.4"/>
<circle cx="1206.0" cy="818.0" r="10.2" fill="none" stroke="#000" stroke-width="2.7"/>
<path d="M1195.8,818.0 H1216.2 M1206.0,807.8 V828.2" stroke="#000" stroke-width="2.4"/>
<circle cx="1206.0" cy="825.0" r="10.2" fill="none" stroke="#000" stroke-width="2.7"/>
<path d="M1195.8,825.0 H1216.2 M1206.0,814.8 V835.2" stroke="#000" stroke-width="2.4"/>
<circle cx="1206.0" cy="832.0" r="10.2" fill="none" stroke="#000" stroke-width="2.7"/>
<path d="M1195.8,832.0 H1216.2 M1206.0,821.8 V842.2" stroke="#000" stroke-width="2.4"/>
<circle cx="1206.0" cy="840.0" r="10.2" fill="none" stroke="#000" stroke-width="2.7"/>
<path d="M1195.8,840.0 H1216.2 M1206.0,829.8 V850.2" stroke="#000" stroke-width="2.4"/>
<circle cx="1206.0" cy="848.0" r="10.2" fill="none" stroke="#000" stroke-width="2.7"/>
<path d="M1195.8,848.0 H1216.2 M1206.0,837.8 V858.2" stroke="#000" stroke-width="2.4"/>
<circle cx="1206.0" cy="857.0" r="10.2" fill="none" stroke="#000" stroke-width="2.7"/>
<path d="M1195.8,857.0 H1216.2 M1206.0,846.8 V867.2" stroke="#000" stroke-width="2.4"/>
<circle cx="1206.0" cy="898.0" r="10.2" fill="none" stroke="#000" stroke-width="2.7"/>
<path d="M1195.8,898.0 H1216.2 M1206.0,887.8 V908.2" stroke="#000" stroke-width="2.4"/>
<circle cx="1411.0" cy="766.0" r="10.2" fill="none" stroke="#000" stroke-width="2.7"/>
<path d="M1400.8,766.0 H1421.2 M1411.0,755.8 V776.2" stroke="#000" stroke-width="2.4"/>
<circle cx="1411.0" cy="771.5" r="10.2" fill="none" stroke="#000" stroke-width="2.7"/>
<path d="M1400.8,771.5 H1421.2 M1411.0,761.3 V781.7" stroke="#000" stroke-width="2.4"/>
<circle cx="1411.0" cy="806.0" r="10.2" fill="none" stroke="#000" stroke-width="2.7"/>
<path d="M1400.8,806.0 H1421.2 M1411.0,795.8 V816.2" stroke="#000" stroke-width="2.4"/>
<circle cx="1411.0" cy="808.5" r="10.2" fill="none" stroke="#000" stroke-width="2.7"/>
<path d="M1400.8,808.5 H1421.2 M1411.0,798.3 V818.7" stroke="#000" stroke-width="2.4"/>
<circle cx="1411.0" cy="811.0" r="10.2" fill="none" stroke="#000" stroke-width="2.7"/>
<path d="M1400.8,811.0 H1421.2 M1411.0,800.8 V821.2" stroke="#000" stroke-width="2.4"/>
<circle cx="1411.0" cy="816.0" r="10.2" fill="none" stroke="#000" stroke-width="2.7"/>
<path d="M1400.8,816.0 H1421.2 M1411.0,805.8 V826.2" stroke="#000" stroke-width="2.4"/>
<circle cx="1411.0" cy="821.0" r="10.2" fill="none" stroke="#000" stroke-width="2.7"/>
<path d="M1400.8,821.0 H1421.2 M1411.0,810.8 V831.2" stroke="#000" stroke-width="2.4"/>
<circle cx="1411.0" cy="826.0" r="10.2" fill="none" stroke="#000" stroke-width="2.7"/>
<path d="M1400.8,826.0 H1421.2 M1411.0,815.8 V836.2" stroke="#000" stroke-width="2.4"/>
<circle cx="1411.0" cy="831.0" r="10.2" fill="none" stroke="#000" stroke-width="2.7"/>
<path d="M1400.8,831.0 H1421.2 M1411.0,820.8 V841.2" stroke="#000" stroke-width="2.4"/>
<circle cx="1411.0" cy="833.5" r="10.2" fill="none" stroke="#000" stroke-width="2.7"/>
<path d="M1400.8,833.5 H1421.2 M1411.0,823.3 V843.7" stroke="#000" stroke-width="2.4"/>
<circle cx="1411.0" cy="836.0" r="10.2" fill="none" stroke="#000" stroke-width="2.7"/>
<path d="M1400.8,836.0 H1421.2 M1411.0,825.8 V846.2" stroke="#000" stroke-width="2.4"/>
<circle cx="1411.0" cy="860.0" r="10.2" fill="none" stroke="#000" stroke-width="2.7"/>
<path d="M1400.8,860.0 H1421.2 M1411.0,849.8 V870.2" stroke="#000" stroke-width="2.4"/>
<circle cx="1411.0" cy="868.0" r="10.2" fill="none" stroke="#000" stroke-width="2.7"/>
<path d="M1400.8,868.0 H1421.2 M1411.0,857.8 V878.2" stroke="#000" stroke-width="2.4"/>
<circle cx="1615.2" cy="745.0" r="10.2" fill="none" stroke="#000" stroke-width="2.7"/>
<path d="M1605.0,745.0 H1625.4 M1615.2,734.8 V755.2" stroke="#000" stroke-width="2.4"/>
<circle cx="1615.2" cy="781.0" r="10.2" fill="none" stroke="#000" stroke-width="2.7"/>
<path d="M1605.0,781.0 H1625.4 M1615.2,770.8 V791.2" stroke="#000" stroke-width="2.4"/>
<circle cx="1615.2" cy="786.0" r="10.2" fill="none" stroke="#000" stroke-width="2.7"/>
<path d="M1605.0,786.0 H1625.4 M1615.2,775.8 V796.2" stroke="#000" stroke-width="2.4"/>
<circle cx="1615.2" cy="792.0" r="10.2" fill="none" stroke="#000" stroke-width="2.7"/>
<path d="M1605.0,792.0 H1625.4 M1615.2,781.8 V802.2" stroke="#000" stroke-width="2.4"/>
<circle cx="1615.2" cy="795.0" r="10.2" fill="none" stroke="#000" stroke-width="2.7"/>
<path d="M1605.0,795.0 H1625.4 M1615.2,784.8 V805.2" stroke="#000" stroke-width="2.4"/>
<circle cx="1615.2" cy="798.0" r="10.2" fill="none" stroke="#000" stroke-width="2.7"/>
<path d="M1605.0,798.0 H1625.4 M1615.2,787.8 V808.2" stroke="#000" stroke-width="2.4"/>
<circle cx="1615.2" cy="805.0" r="10.2" fill="none" stroke="#000" stroke-width="2.7"/>
<path d="M1605.0,805.0 H1625.4 M1615.2,794.8 V815.2" stroke="#000" stroke-width="2.4"/>
<circle cx="1615.2" cy="832.0" r="10.2" fill="none" stroke="#000" stroke-width="2.7"/>
<path d="M1605.0,832.0 H1625.4 M1615.2,821.8 V842.2" stroke="#000" stroke-width="2.4"/>
<circle cx="1615.2" cy="838.0" r="10.2" fill="none" stroke="#000" stroke-width="2.7"/>
<path d="M1605.0,838.0 H1625.4 M1615.2,827.8 V848.2" stroke="#000" stroke-width="2.4"/>
<circle cx="1615.2" cy="845.0" r="10.2" fill="none" stroke="#000" stroke-width="2.7"/>
<path d="M1605.0,845.0 H1625.4 M1615.2,834.8 V855.2" stroke="#000" stroke-width="2.4"/>
<circle cx="1615.2" cy="851.0" r="10.2" fill="none" stroke="#000" stroke-width="2.7"/>
<path d="M1605.0,851.0 H1625.4 M1615.2,840.8 V861.2" stroke="#000" stroke-width="2.4"/>
<circle cx="1615.2" cy="855.0" r="10.2" fill="none" stroke="#000" stroke-width="2.7"/>
<path d="M1605.0,855.0 H1625.4 M1615.2,844.8 V865.2" stroke="#000" stroke-width="2.4"/>
<circle cx="1615.2" cy="858.0" r="10.2" fill="none" stroke="#000" stroke-width="2.7"/>
<path d="M1605.0,858.0 H1625.4 M1615.2,847.8 V868.2" stroke="#000" stroke-width="2.4"/>
<circle cx="1615.2" cy="864.0" r="10.2" fill="none" stroke="#000" stroke-width="2.7"/>
<path d="M1605.0,864.0 H1625.4 M1615.2,853.8 V874.2" stroke="#000" stroke-width="2.4"/>
<circle cx="1615.2" cy="870.0" r="10.2" fill="none" stroke="#000" stroke-width="2.7"/>
<path d="M1605.0,870.0 H1625.4 M1615.2,859.8 V880.2" stroke="#000" stroke-width="2.4"/>
<polygon points="1634.1,459.9 1654.5,459.9 1644.3,478.0" fill="none" stroke="#000" stroke-width="2.9" stroke-linejoin="round"/>
<circle cx="1644.2" cy="495.5" r="10.2" fill="none" stroke="#000" stroke-width="2.7"/>
<path d="M1634.0,495.5 H1654.4 M1644.2,485.3 V505.7" stroke="#000" stroke-width="2.4"/>
<text x="0" y="0" font-size="25.43" fill="#000" transform="translate(1686.07,474.50) scale(1,0.9831608952702696)">tDCS</text>
<text x="0" y="0" font-size="25.25" fill="#000" transform="translate(1686.35,503.30) scale(1,0.995830933706304)">s-tDCS</text>
<text x="0" y="0" font-size="29.60" fill="#000" transform="translate(1081.42,1008.90) scale(1,1.0608151369131424)">Post 10min</text>
<text x="0" y="0" font-size="29.72" fill="#000" transform="translate(1301.31,1008.90) scale(1,1.0564042631629846)">Post 20min</text>
<text x="0" y="0" font-size="29.72" fill="#000" transform="translate(1505.41,1008.90) scale(1,1.0564042631629829)">Post 30min</text>
</svg>
</body></html>
